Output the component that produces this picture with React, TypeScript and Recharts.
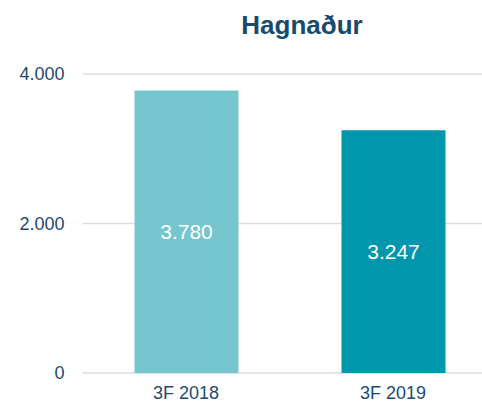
import { BarChart, Bar, XAxis, YAxis, CartesianGrid, Cell, LabelList } from "recharts";

const CATEGORIES = ["3F 2018", "3F 2019"];
const PROFIT = [3780, 3247];
const Y_TICKS = [0, 2000, 4000];
const COLORS = ["#76C6CF", "#0097AC"];

const data = CATEGORIES.map((name, i) => ({ name, value: PROFIT[i] }));

const fmt = (v: number) => v.toLocaleString("en-US").replace(/,/g, ".");

const TEXT = "#1D4B6E";

export default function App() {
  return (
    <div
      style={{
        position: "absolute",
        left: 0,
        top: 0,
        width: 482,
        height: 403,
        overflow: "hidden",
        background: "#fff",
        fontFamily: "Arial, 'Liberation Sans', sans-serif",
      }}
    >
      <div
        style={{
          position: "absolute",
          left: 0,
          top: 11.6,
          width: 604,
          textAlign: "center",
          fontSize: 26,
          lineHeight: "26px",
          fontWeight: "bold",
          color: "#174A6E",
        }}
      >
        Hagnaður
      </div>
      <BarChart
        width={500}
        height={403}
        data={data}
        margin={{ top: 74, right: 3.5, bottom: 0, left: 0 }}
        barSize={104}
      >
        <CartesianGrid vertical={false} stroke="#D9DEE4" strokeWidth={1.5} />
        <XAxis
          dataKey="name"
          axisLine={false}
          tickLine={false}
          tickSize={0}
          tickMargin={13}
          height={30}
          tick={{ fontSize: 18, fill: TEXT, fontFamily: "Arial, 'Liberation Sans', sans-serif" }}
        />
        <YAxis
          domain={[0, 4000]}
          ticks={Y_TICKS}
          axisLine={false}
          tickLine={false}
          tickSize={0}
          tickMargin={18}
          width={82.5}
          tickFormatter={fmt}
          tick={{ fontSize: 18, fill: TEXT, fontFamily: "Arial, 'Liberation Sans', sans-serif" }}
        />
        <Bar dataKey="value" isAnimationActive={false}>
          {data.map((_, i) => (
            <Cell key={i} fill={COLORS[i]} />
          ))}
          <LabelList
            dataKey="value"
            position="center"
            formatter={(v: any) => fmt(Number(v))}
            fill="#FFFFFF"
            fontSize={21}
            fontFamily="Arial, 'Liberation Sans', sans-serif"
          />
        </Bar>
      </BarChart>
    </div>
  );
}
